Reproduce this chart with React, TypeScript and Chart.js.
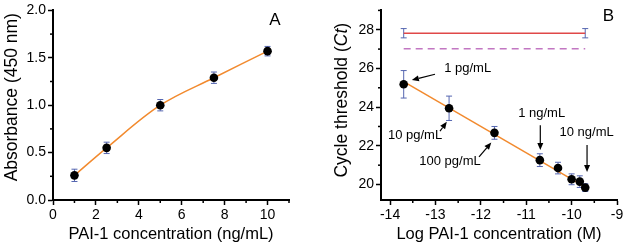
import React, { useEffect, useRef } from 'react';
import { Chart, registerables } from 'chart.js';

Chart.register(...registerables);

const FONT = "'Liberation Sans', Arial, Helvetica, sans-serif";

// ---------- Panel A data ----------
const concA = [1, 2.5, 5, 7.5, 10];
const absA = [0.26, 0.55, 1.0, 1.29, 1.57];
const errA = [0.065, 0.06, 0.06, 0.06, 0.05];

// ---------- Panel B data ----------
const logConcB = [-13.7, -12.7, -11.7, -10.7, -10.3, -10.0, -9.82, -9.7];
const ctB = [25.18, 23.94, 22.67, 21.26, 20.85, 20.27, 20.15, 19.84];
const errB = [0.71, 0.63, 0.33, 0.33, 0.3, 0.28, 0.3, 0.2];
const fitX = [-13.7, -9.65];
const fitCt = [25.32, 19.8];
const controlX = [-13.7, -9.7];
const controlCt = [27.82, 27.82];
const controlErr = [0.24, 0.24];
const thresholdCt = [27.02, 27.02];
const labelsB = ['1 pg/mL', '10 pg/mL', '100 pg/mL', '1 ng/mL', '10 ng/mL'];

const ORANGE = '#f28a2e';
const ERR = '#5566b0';
const RED = '#e04848';
const PURPLE = '#c277c2';

const toXY = (xs: number[], ys: number[]) => xs.map((x, i) => ({ x, y: ys[i] }));

// ---------- plugins ----------
const minorTicksPlugin = {
  id: 'minorTicks',
  afterDraw(chart: any) {
    const ctx = chart.ctx;
    const area = chart.chartArea;
    ctx.save();
    ctx.strokeStyle = '#000';
    ctx.lineWidth = 1.5;
    ['x', 'y'].forEach((id) => {
      const s = chart.scales[id];
      const t = s.ticks.map((k: any) => k.value);
      if (t.length < 2) return;
      const step = t[1] - t[0];
      for (let v = t[0] - step / 2; v <= s.max + 1e-9; v += step / 2) {
        if (v < s.min - 1e-9) continue;
        if (t.some((m: number) => Math.abs(m - v) < 1e-9)) continue;
        const p = s.getPixelForValue(v);
        ctx.beginPath();
        if (id === 'x') {
          ctx.moveTo(p, area.bottom);
          ctx.lineTo(p, area.bottom + 3);
        } else {
          ctx.moveTo(area.left, p);
          ctx.lineTo(area.left - 3, p);
        }
        ctx.stroke();
      }
    });
    ctx.restore();
  },
};

const errorBarsPlugin = {
  id: 'errorBars',
  beforeDatasetsDraw(chart: any) {
    const ctx = chart.ctx;
    const xs = chart.scales.x;
    const ys = chart.scales.y;
    ctx.save();
    ctx.strokeStyle = ERR;
    ctx.lineWidth = 1;
    chart.data.datasets.forEach((ds: any) => {
      if (!ds.errors) return;
      ds.data.forEach((d: any, j: number) => {
        const e = ds.errors[j];
        const px = xs.getPixelForValue(d.x);
        const top = ys.getPixelForValue(d.y + e);
        const bot = ys.getPixelForValue(d.y - e);
        ctx.beginPath();
        ctx.moveTo(px, top);
        ctx.lineTo(px, bot);
        ctx.moveTo(px - 3, top);
        ctx.lineTo(px + 3, top);
        ctx.moveTo(px - 3, bot);
        ctx.lineTo(px + 3, bot);
        ctx.stroke();
      });
    });
    ctx.restore();
  },
};

function drawRotated(ctx: any, parts: { text: string; italic?: boolean }[], cx: number, cy: number, size: number) {
  ctx.save();
  ctx.translate(cx, cy);
  ctx.rotate(-Math.PI / 2);
  ctx.fillStyle = '#000';
  ctx.textBaseline = 'middle';
  ctx.textAlign = 'left';
  let total = 0;
  const widths = parts.map((p) => {
    ctx.font = `${p.italic ? 'italic ' : ''}${size}px ${FONT}`;
    const w = ctx.measureText(p.text).width;
    total += w;
    return w;
  });
  let x = -total / 2;
  parts.forEach((p, i) => {
    ctx.font = `${p.italic ? 'italic ' : ''}${size}px ${FONT}`;
    ctx.fillText(p.text, x, 0);
    x += widths[i];
  });
  ctx.restore();
}

const decorPlugin = {
  id: 'decor',
  afterDatasetsDraw(chart: any, _args: any, opts: any) {
    const ctx = chart.ctx;
    const xs = chart.scales.x;
    const ys = chart.scales.y;
    const area = chart.chartArea;
    if (opts.yTitle) {
      drawRotated(ctx, opts.yTitle.parts, area.left + opts.yTitle.dx, (area.top + area.bottom) / 2 + opts.yTitle.dy, 17.5);
    }
    if (opts.letter) {
      ctx.save();
      ctx.fillStyle = '#000';
      ctx.font = `17px ${FONT}`;
      ctx.textAlign = 'center';
      ctx.textBaseline = 'middle';
      ctx.fillText(opts.letter.text, xs.getPixelForValue(opts.letter.x), ys.getPixelForValue(opts.letter.y));
      ctx.restore();
    }
    (opts.notes || []).forEach((n: any) => {
      ctx.save();
      ctx.fillStyle = '#000';
      ctx.strokeStyle = '#000';
      ctx.font = `13px ${FONT}`;
      ctx.textAlign = 'center';
      ctx.textBaseline = 'middle';
      ctx.fillText(n.text, xs.getPixelForValue(n.tx), ys.getPixelForValue(n.ty));
      const x1 = xs.getPixelForValue(n.from[0]);
      const y1 = ys.getPixelForValue(n.from[1]);
      const x2 = xs.getPixelForValue(n.to[0]);
      const y2 = ys.getPixelForValue(n.to[1]);
      const ang = Math.atan2(y2 - y1, x2 - x1);
      const L = 7;
      const W = 3;
      const bx = x2 - L * Math.cos(ang);
      const by = y2 - L * Math.sin(ang);
      ctx.lineWidth = 1.2;
      ctx.beginPath();
      ctx.moveTo(x1, y1);
      ctx.lineTo(bx, by);
      ctx.stroke();
      ctx.beginPath();
      ctx.moveTo(x2, y2);
      ctx.lineTo(bx + W * Math.sin(ang), by - W * Math.cos(ang));
      ctx.lineTo(bx - W * Math.sin(ang), by + W * Math.cos(ang));
      ctx.closePath();
      ctx.fill();
      ctx.restore();
    });
  },
};

function axisCommon(extra: any) {
  return {
    type: 'linear',
    border: { display: true, color: '#000', width: 2 },
    grid: {
      display: true,
      drawOnChartArea: false,
      drawTicks: true,
      tickLength: 5,
      color: '#000',
      tickColor: '#000',
      tickWidth: 1.5,
    },
    ...extra,
  };
}

function PanelA() {
  const ref = useRef<HTMLCanvasElement>(null);
  useEffect(() => {
    const chart = new Chart(ref.current as HTMLCanvasElement, {
      type: 'scatter',
      data: {
        datasets: [
          {
            data: toXY(concA, absA),
            errors: errA,
            showLine: false,
            pointRadius: 4.3,
            pointBackgroundColor: '#000',
            pointBorderColor: '#000',
            pointBorderWidth: 0,
          } as any,
          {
            data: toXY(concA, absA),
            showLine: true,
            borderColor: ORANGE,
            borderWidth: 1.5,
            pointRadius: 0,
            tension: 0.35,
          } as any,
        ],
      },
      options: {
        animation: false,
        responsive: false,
        devicePixelRatio: 1,
        layout: { padding: { top: 10, right: 21, left: 0, bottom: 0 } },
        plugins: {
          legend: { display: false },
          tooltip: { enabled: false },
          decor: {
            yTitle: { parts: [{ text: 'Absorbance (450 nm)' }], dx: -41, dy: -8 },
            letter: { text: 'A', x: 10.34, y: 1.895 },
          },
        } as any,
        scales: {
          x: axisCommon({
            min: 0,
            max: 11,
            ticks: { stepSize: 2, includeBounds: false, color: '#000', font: { family: FONT, size: 14 }, padding: 2, maxRotation: 0 },
            title: { display: true, text: 'PAI-1 concentration (ng/mL)', color: '#000', font: { family: FONT, size: 16.5 }, padding: { top: 0, bottom: 3 } },
            afterFit: (s: any) => { s.height = 47; },
          }),
          y: axisCommon({
            min: 0,
            max: 2,
            ticks: { stepSize: 0.5, color: '#000', font: { family: FONT, size: 14 }, padding: 2, callback: (v: any) => Number(v).toFixed(1) },
            afterFit: (s: any) => { s.width = 53; },
          }),
        } as any,
      },
      plugins: [minorTicksPlugin, errorBarsPlugin, decorPlugin],
    } as any);
    return () => chart.destroy();
  }, []);
  return <canvas ref={ref} width={310} height={247} style={{ position: 'absolute', left: 0, top: 0, width: 310, height: 247 }} />;
}

function PanelB() {
  const ref = useRef<HTMLCanvasElement>(null);
  useEffect(() => {
    const chart = new Chart(ref.current as HTMLCanvasElement, {
      type: 'scatter',
      data: {
        datasets: [
          {
            data: toXY(logConcB, ctB),
            errors: errB,
            showLine: false,
            pointRadius: 4.3,
            pointBackgroundColor: '#000',
            pointBorderColor: '#000',
            pointBorderWidth: 0,
          } as any,
          {
            data: toXY(fitX, fitCt),
            showLine: true,
            borderColor: ORANGE,
            borderWidth: 1.5,
            pointRadius: 0,
          } as any,
          {
            data: toXY(controlX, controlCt),
            errors: controlErr,
            showLine: true,
            borderColor: RED,
            borderWidth: 1.5,
            pointRadius: 0,
          } as any,
          {
            data: toXY(controlX, thresholdCt),
            showLine: true,
            borderColor: PURPLE,
            borderWidth: 1.5,
            borderDash: [7, 5],
            pointRadius: 0,
          } as any,
        ],
      },
      options: {
        animation: false,
        responsive: false,
        devicePixelRatio: 1,
        layout: { padding: { top: 10, right: 10, left: 0, bottom: 0 } },
        plugins: {
          legend: { display: false },
          tooltip: { enabled: false },
          decor: {
            yTitle: { parts: [{ text: 'Cycle threshold (' }, { text: 'Ct', italic: true }, { text: ')' }], dx: -38.5, dy: -5 },
            letter: { text: 'B', x: -9.19, y: 28.68 },
            notes: [
              { text: labelsB[0], tx: -12.29, ty: 26.01, from: [-13.01, 25.7], to: [-13.52, 25.4] },
              { text: labelsB[1], tx: -13.45, ty: 22.55, from: [-12.9, 22.76], to: [-12.75, 23.24] },
              { text: labelsB[2], tx: -12.68, ty: 21.21, from: [-12.04, 21.43], to: [-11.77, 22.17] },
              { text: labelsB[3], tx: -10.66, ty: 23.68, from: [-10.69, 23.07], to: [-10.69, 21.78] },
              { text: labelsB[4], tx: -9.67, ty: 22.67, from: [-9.66, 22.04], to: [-9.66, 20.65] },
            ],
          },
        } as any,
        scales: {
          x: axisCommon({
            min: -14.2,
            max: -9,
            ticks: { stepSize: 1, includeBounds: false, color: '#000', font: { family: FONT, size: 14 }, padding: 2, maxRotation: 0, callback: (v: any) => String(v) },
            title: { display: true, text: 'Log PAI-1 concentration (M)', color: '#000', font: { family: FONT, size: 16.5 }, padding: { top: 0, bottom: 3 } },
            afterFit: (s: any) => { s.height = 47; },
          }),
          y: axisCommon({
            min: 19.2,
            max: 29,
            ticks: { stepSize: 2, includeBounds: false, color: '#000', font: { family: FONT, size: 14 }, padding: 2, callback: (v: any) => String(v) },
            afterFit: (s: any) => { s.width = 71; },
          }),
        } as any,
      },
      plugins: [minorTicksPlugin, errorBarsPlugin, decorPlugin],
    } as any);
    return () => chart.destroy();
  }, []);
  return <canvas ref={ref} width={317} height={247} style={{ position: 'absolute', left: 310, top: 0, width: 317, height: 247 }} />;
}

export default function App() {
  return (
    <div style={{ position: 'absolute', left: 0, top: 0, width: 627, height: 247, background: '#fff' }}>
      <PanelA />
      <PanelB />
    </div>
  );
}
